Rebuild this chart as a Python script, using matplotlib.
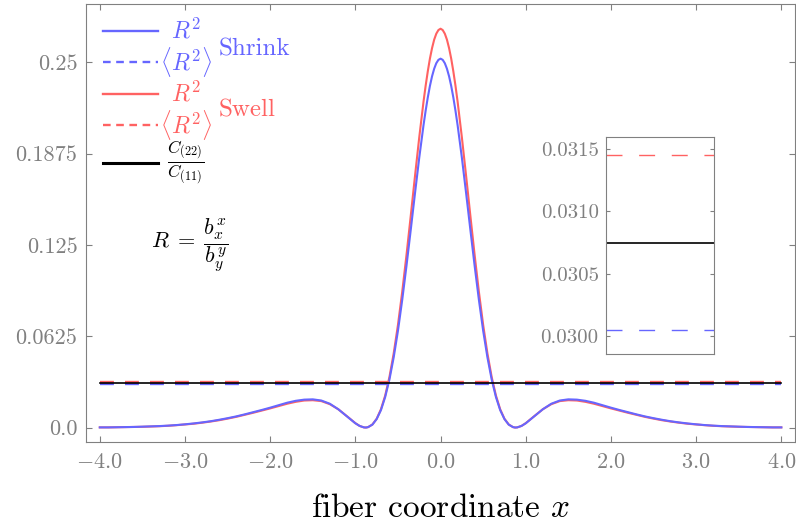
import numpy as np
import matplotlib
matplotlib.use("Agg")
import matplotlib.pyplot as plt
from matplotlib.lines import Line2D

plt.rcParams['font.family'] = 'serif'
plt.rcParams['font.serif'] = ['cmr10']
plt.rcParams['mathtext.fontset'] = 'cm'
plt.rcParams['axes.formatter.use_mathtext'] = True
plt.rcParams['lines.scale_dashes'] = False

# data (curves are even in x, only x >= 0 is listed)
x_half = [0.0, 0.025, 0.05, 0.075, 0.1, 0.125, 0.15, 0.175, 0.2, 0.25,
          0.3, 0.35, 0.4, 0.45, 0.5, 0.55, 0.6, 0.65, 0.7, 0.75,
          0.8, 0.85, 0.875, 0.9, 0.95,
          1.0, 1.1, 1.2, 1.3, 1.4, 1.5, 1.6, 1.7, 1.8, 1.9,
          2.0, 2.1, 2.2, 2.3, 2.4, 2.5, 2.6, 2.7, 2.8, 2.9,
          3.0, 3.1, 3.2, 3.3, 3.4, 3.5, 3.6, 3.7, 3.8, 3.9, 4.0]
r2_shrink = [0.2525, 0.2517, 0.2494, 0.2456, 0.2404, 0.2338, 0.2259, 0.2169, 0.2070, 0.1848,
             0.1604, 0.1353, 0.1107, 0.0874, 0.0663, 0.0481, 0.0329, 0.0209, 0.0119, 0.0058,
             0.0020, 0.0003, 0.0000, 0.0001, 0.0011,
             0.0029, 0.0077, 0.0125, 0.0163, 0.0185, 0.0193, 0.0191, 0.0183, 0.0170, 0.0153,
             0.0136, 0.0120, 0.0105, 0.0090, 0.0076, 0.0064, 0.0053, 0.0043, 0.0035, 0.0028,
             0.0022, 0.0017, 0.0013, 0.0010, 0.0008, 0.0006, 0.0004, 0.0003, 0.0002, 0.0001, 0.0001]
r2_swell = [0.2730, 0.2721, 0.2696, 0.2655, 0.2597, 0.2525, 0.2438, 0.2340, 0.2231, 0.1987,
            0.1722, 0.1449, 0.1181, 0.0929, 0.0703, 0.0508, 0.0346, 0.0219, 0.0125, 0.0060,
            0.0021, 0.0003, 0.0000, 0.0001, 0.0011,
            0.0030, 0.0078, 0.0125, 0.0160, 0.0181, 0.0187, 0.0185, 0.0176, 0.0163, 0.0147,
            0.0131, 0.0116, 0.0101, 0.0087, 0.0073, 0.0061, 0.0050, 0.0041, 0.0033, 0.0026,
            0.0021, 0.0016, 0.0012, 0.0009, 0.0007, 0.0005, 0.0004, 0.0003, 0.0002, 0.0001, 0.0001]
mean_shrink = 0.03005   # <R^2> shrink
mean_swell = 0.03145    # <R^2> swell
c_ratio = 0.03075       # C(22)/C(11)

xticks = [-4.0, -3.0, -2.0, -1.0, 0.0, 1.0, 2.0, 3.0, 4.0]
xtick_labels = ['$-4.0$', '$-3.0$', '$-2.0$', '$-1.0$', '$0.0$', '$1.0$', '$2.0$', '$3.0$', '$4.0$']
yticks = [0.0, 0.0625, 0.125, 0.1875, 0.25]
ytick_labels = ['0.0', '0.0625', '0.125', '0.1875', '0.25']
inset_yticks = [0.0300, 0.0305, 0.0310, 0.0315]
inset_ytick_labels = ['0.0300', '0.0305', '0.0310', '0.0315']

blue = '#6666ff'
red = '#ff6262'
gray = '#808080'

# mirror the half data
xh = np.array(x_half)
x_full = np.r_[-xh[:0:-1], xh]
shrink_full = np.r_[np.array(r2_shrink)[:0:-1], r2_shrink]
swell_full = np.r_[np.array(r2_swell)[:0:-1], r2_swell]
x_ends = [x_full[0], x_full[-1]]

fig = plt.figure(figsize=(7.96, 5.29), dpi=100)
ax = fig.add_axes([0.1077, 0.1639, 0.891, 0.8285])

ax.plot(x_full, swell_full, color=red, lw=1.5)
ax.plot(x_full, shrink_full, color=blue, lw=1.5)
ax.plot(x_ends, [mean_shrink] * 2, color=blue, lw=1.7, dashes=(10, 8))
ax.plot(x_ends, [mean_swell] * 2, color=red, lw=1.7, dashes=(10, 8))
ax.plot(x_ends, [c_ratio] * 2, color='black', lw=1.2)

ax.set_xlim(-4.165, 4.16)
ax.set_ylim(-0.0101, 0.2899)
ax.set_xticks(xticks, labels=xtick_labels)
ax.set_yticks(yticks, labels=ytick_labels)
ax.tick_params(direction='in', top=True, right=True, length=4, width=0.8,
               color=gray, labelcolor=gray, labelsize=16)
ax.tick_params(axis='y', pad=6)
ax.tick_params(axis='x', pad=7)
for s in ax.spines.values():
    s.set_color(gray)
    s.set_linewidth(0.8)
ax.set_xlabel('fiber coordinate $x$', fontsize=24, labelpad=16)

# hand made legend
def ax_frac(px, py):
    return (px - 85.7) / 709.3, (442.3 - py) / 438.3

legend_rows = [
    (31, blue, '-', r'$R^2$', 17),
    (62.3, blue, (0, (5.5, 4)), r'$\langle R^2\rangle$', 17),
    (94.3, red, '-', r'$R^2$', 17),
    (125, red, (0, (5.5, 4)), r'$\langle R^2\rangle$', 17),
    (163, 'black', '-', r'$\dfrac{C_{(22)}}{C_{(11)}}$', 12.5),
]
for py, col, ls, lab, fs in legend_rows:
    x0, yy = ax_frac(103, py)
    x1, _ = ax_frac(158, py)
    lw = 2.2 if col == 'black' else 1.7
    ax.add_line(Line2D([x0, x1], [yy, yy], color=col, ls=ls, lw=lw,
                       transform=ax.transAxes))
    tx, _ = ax_frac(186, py)
    ax.text(tx, yy, lab, color=col, fontsize=fs, ha='center', va='center',
            transform=ax.transAxes)

sx, sy = ax_frac(219, 49)
ax.text(sx, sy, 'Shrink', color=blue, fontsize=18, ha='left', va='center',
        transform=ax.transAxes)
sx, sy = ax_frac(219, 110)
ax.text(sx, sy, 'Swell', color=red, fontsize=18, ha='left', va='center',
        transform=ax.transAxes)
fx, fy = ax_frac(151, 245)
ax.text(fx, fy, r'$R\;=\;\dfrac{b_x^x}{b_y^y}$', fontsize=16, ha='left', va='center',
        transform=ax.transAxes)

# inset zoom on the averages
axin = fig.add_axes([0.7609, 0.3303, 0.1361, 0.4102])
axin.plot(x_ends, [mean_swell] * 2, color=red, lw=1.0, dashes=(11.5, 12))
axin.plot(x_ends, [c_ratio] * 2, color='black', lw=1.2)
axin.plot(x_ends, [mean_shrink] * 2, color=blue, lw=1.0, dashes=(11.5, 12))
axin.set_xlim(x_ends)
axin.set_ylim(0.029853, 0.031596)
axin.set_xticks([])
axin.set_yticks(inset_yticks, labels=inset_ytick_labels)
axin.tick_params(direction='in', right=True, length=3, width=0.8,
                 color=gray, labelcolor=gray, labelsize=15, pad=5)
for s in axin.spines.values():
    s.set_color(gray)
    s.set_linewidth(0.8)

fig.savefig('out.png', dpi=100)
